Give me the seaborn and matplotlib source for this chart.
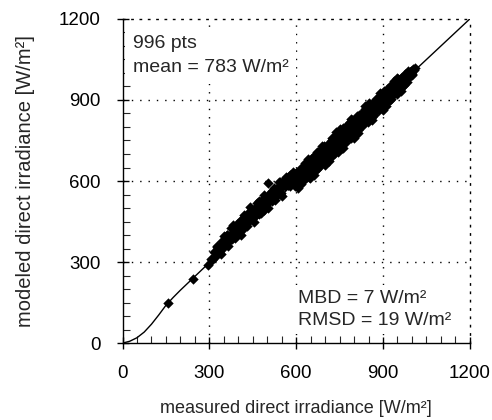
import matplotlib
matplotlib.use('Agg')
import matplotlib.pyplot as plt
import seaborn as sb
from matplotlib.ticker import MultipleLocator

# valores (W/m2)
# pontos isolados e parte esparsa (150-600)
medido_baixo = [158, 244, 296,
                305, 310, 316, 322, 327, 333, 338, 344, 350, 356, 361, 367, 372, 378, 383, 389, 394,
                400, 406, 411, 417, 422, 428, 433, 439, 444, 450,
                318, 330, 342, 354, 366, 378, 390, 402, 414, 426, 438, 448,
                455, 459, 464, 468, 473, 477, 482, 486, 491, 495, 500, 504, 509, 513, 518, 522, 527,
                531, 536, 540, 545, 549, 554, 558, 563, 567, 572, 576, 581, 585, 590, 594, 599,
                452, 462, 471, 480, 489, 498, 507, 516, 525, 534, 543, 552, 561, 570, 579, 588, 597,
                325, 340, 352, 365, 375, 388, 398, 408, 418, 430, 442, 455, 466, 478, 490, 502, 515,
                528, 540, 552, 565, 578, 590, 335, 360, 395, 420, 445, 470, 495, 520, 545, 570, 595]
modelado_baixo = [150, 236, 291,
                  313, 306, 336, 334, 355, 338, 356, 379, 360, 381, 401, 382, 402, 386, 438, 411, 429,
                  412, 451, 439, 435, 462, 453, 483, 454, 476, 470,
                  318, 345, 347, 384, 374, 398, 400, 432, 419, 461, 458, 493,
                  485, 471, 506, 490, 478, 512, 500, 534, 519, 505, 538, 592, 554, 538, 526, 542, 557,
                  546, 578, 562, 580, 554, 582, 603, 581, 599, 584, 616, 606, 593, 625, 614, 629,
                  462, 490, 486, 520, 494, 520, 537, 528, 575, 554, 551, 590, 586, 585, 624, 610, 607,
                  360, 330, 397, 360, 425, 388, 446, 400, 473, 435, 502, 450, 518, 480, 550, 500, 563,
                  528, 595, 546, 615, 583, 635, 360, 402, 417, 468, 475, 525, 530, 540, 597, 615, 583]

# parte densa (600-1010)
medido_alto = [601, 604, 607, 610, 613, 616, 619, 622, 625, 628,
               631, 634, 637, 640, 643, 646, 649, 652, 655, 658,
               661, 664, 667, 670, 673, 676, 679, 682, 685, 688,
               691, 694, 697, 700, 703, 706, 709, 712, 715, 718,
               721, 724, 727, 730, 733, 736, 739, 742, 745, 748,
               751, 754, 757, 760, 763, 766, 769, 772, 775, 778,
               781, 784, 787, 790, 793, 796, 799, 802, 805, 808,
               811, 814, 817, 820, 823, 826, 829, 832, 835, 838,
               841, 844, 847, 850, 853, 856, 859, 862, 865, 868,
               871, 874, 877, 880, 883, 886, 889, 892, 895, 898,
               901, 904, 907, 910, 913, 916, 919, 922, 925, 928,
               931, 934, 937, 940, 943, 946, 949, 952, 955, 958,
               961, 964, 967, 970, 973, 976, 979, 982, 985, 988,
               991, 994, 997, 1000, 1003, 1006, 1009,
               605, 611, 617, 623, 629, 635, 641, 647, 653, 659,
               665, 671, 677, 683, 689, 695, 701, 707, 713, 719,
               725, 731, 737, 743, 749, 755, 761, 767, 773, 779,
               785, 791, 797, 803, 809, 815, 821, 827, 833, 839,
               845, 851, 857, 863, 869, 875, 881, 887, 893, 899,
               905, 911, 917, 923, 929, 935, 941, 947, 953, 959,
               965, 971, 977, 983, 989, 995, 1001,
               640, 662, 688, 712, 738, 762, 788, 812, 838, 862,
               888, 912, 938, 962, 700, 750, 800, 850, 900, 950]
modelado_alto = [613, 586, 637, 605, 635, 588, 627, 657, 613, 646,
                 606, 637, 665, 632, 658, 614, 674, 650, 687, 643,
                 671, 642, 687, 675, 643, 703, 669, 696, 665, 721,
                 691, 668, 714, 694, 727, 692, 716, 742, 691, 729,
                 718, 750, 710, 749, 704, 740, 770, 733, 761, 727,
                 774, 753, 724, 773, 792, 755, 775, 753, 796, 780,
                 767, 809, 760, 799, 826, 790, 817, 780, 817, 778,
                 831, 806, 844, 804, 828, 850, 804, 846, 832, 866,
                 822, 852, 820, 867, 847, 881, 847, 865, 887, 844,
                 882, 860, 903, 878, 902, 865, 895, 920, 886, 913,
                 875, 908, 928, 899, 940, 899, 928, 918, 949, 905,
                 944, 927, 962, 925, 945, 966, 929, 962, 954, 976,
                 949, 986, 949, 976, 989, 967, 991, 968, 993, 1006,
                 985, 1004, 999, 992, 1015, 1010, 1017,
                 575, 636, 602, 628, 667, 615, 661, 612, 663, 689,
                 653, 706, 649, 705, 671, 731, 669, 719, 697, 689,
                 760, 707, 752, 709, 777, 735, 797, 739, 803, 767,
                 817, 758, 823, 791, 839, 789, 841, 809, 859, 829,
                 870, 829, 869, 837, 891, 859, 909, 861, 911, 871,
                 933, 893, 933, 899, 955, 923, 961, 921, 977, 943,
                 975, 955, 997, 977, 993, 1009, 997,
                 682, 622, 728, 674, 780, 722, 828, 776, 876, 826,
                 924, 878, 972, 932, 658, 794, 760, 890, 864, 982]

# curva do modelo
curva_x = [0, 25, 50, 75, 100, 125, 150, 175, 200, 250, 300, 1200]
curva_y = [0, 7, 20, 41, 70, 104, 140, 169, 196, 247, 298, 1200]

ticks = [0, 300, 600, 900, 1200]

medido = medido_baixo + medido_alto
modelado = modelado_baixo + modelado_alto

sb.set_style('ticks')
plt.rcParams['font.family'] = ['Liberation Sans', 'DejaVu Sans']

fig = plt.figure(figsize=(4.92, 4.2), dpi=100)
ax = fig.add_axes([0.249, 0.183, 0.706, 0.772])

#linhas pontilhadas
for v in ticks[1:-1]:
    ax.axhline(v, color='black', lw=1, ls=(0, (1, 5)), zorder=0)
    ax.axvline(v, color='black', lw=1, ls=(0, (1, 5)), zorder=0)

sb.lineplot(x=curva_x, y=curva_y, color='black', lw=1, ax=ax)
sb.scatterplot(x=medido, y=modelado, marker='D', color='black', s=28, linewidth=0, ax=ax)

ax.set_xlim(0, 1200)
ax.set_ylim(0, 1200)
ax.set_xticks(ticks)
ax.set_yticks(ticks)
ax.xaxis.set_minor_locator(MultipleLocator(50))
ax.yaxis.set_minor_locator(MultipleLocator(50))
ax.tick_params(which='major', direction='inout', length=9, width=1, labelsize=13.5, pad=11, colors='black')
ax.tick_params(which='minor', direction='in', length=5, width=0.8)
for lado in ['top', 'right']:
    ax.spines[lado].set_linestyle((0, (1, 5)))
for s in ax.spines.values():
    s.set_color('black')
    s.set_linewidth(1)
    s.set_zorder(5)

#caixas de texto brancas por cima da grade
caixa = dict(boxstyle='square,pad=0.4', facecolor='white', edgecolor='none')
ax.text(0.03, 0.95, '996 pts\nmean = 783 W/m²', transform=ax.transAxes, fontsize=14,
        va='top', linespacing=1.55, bbox=caixa, zorder=3)
ax.text(0.505, 0.165, 'MBD = 7 W/m²\nRMSD = 19 W/m²', transform=ax.transAxes, fontsize=14,
        va='top', linespacing=1.45, bbox=dict(boxstyle='square,pad=0.25', facecolor='white', edgecolor='none'),
        zorder=3)

ax.set_xlabel('measured direct irradiance [W/m²]', fontsize=13, labelpad=13)
ax.set_ylabel('modeled direct irradiance [W/m²]', fontsize=14.5, labelpad=17)

plt.savefig('out.png', dpi=100)
